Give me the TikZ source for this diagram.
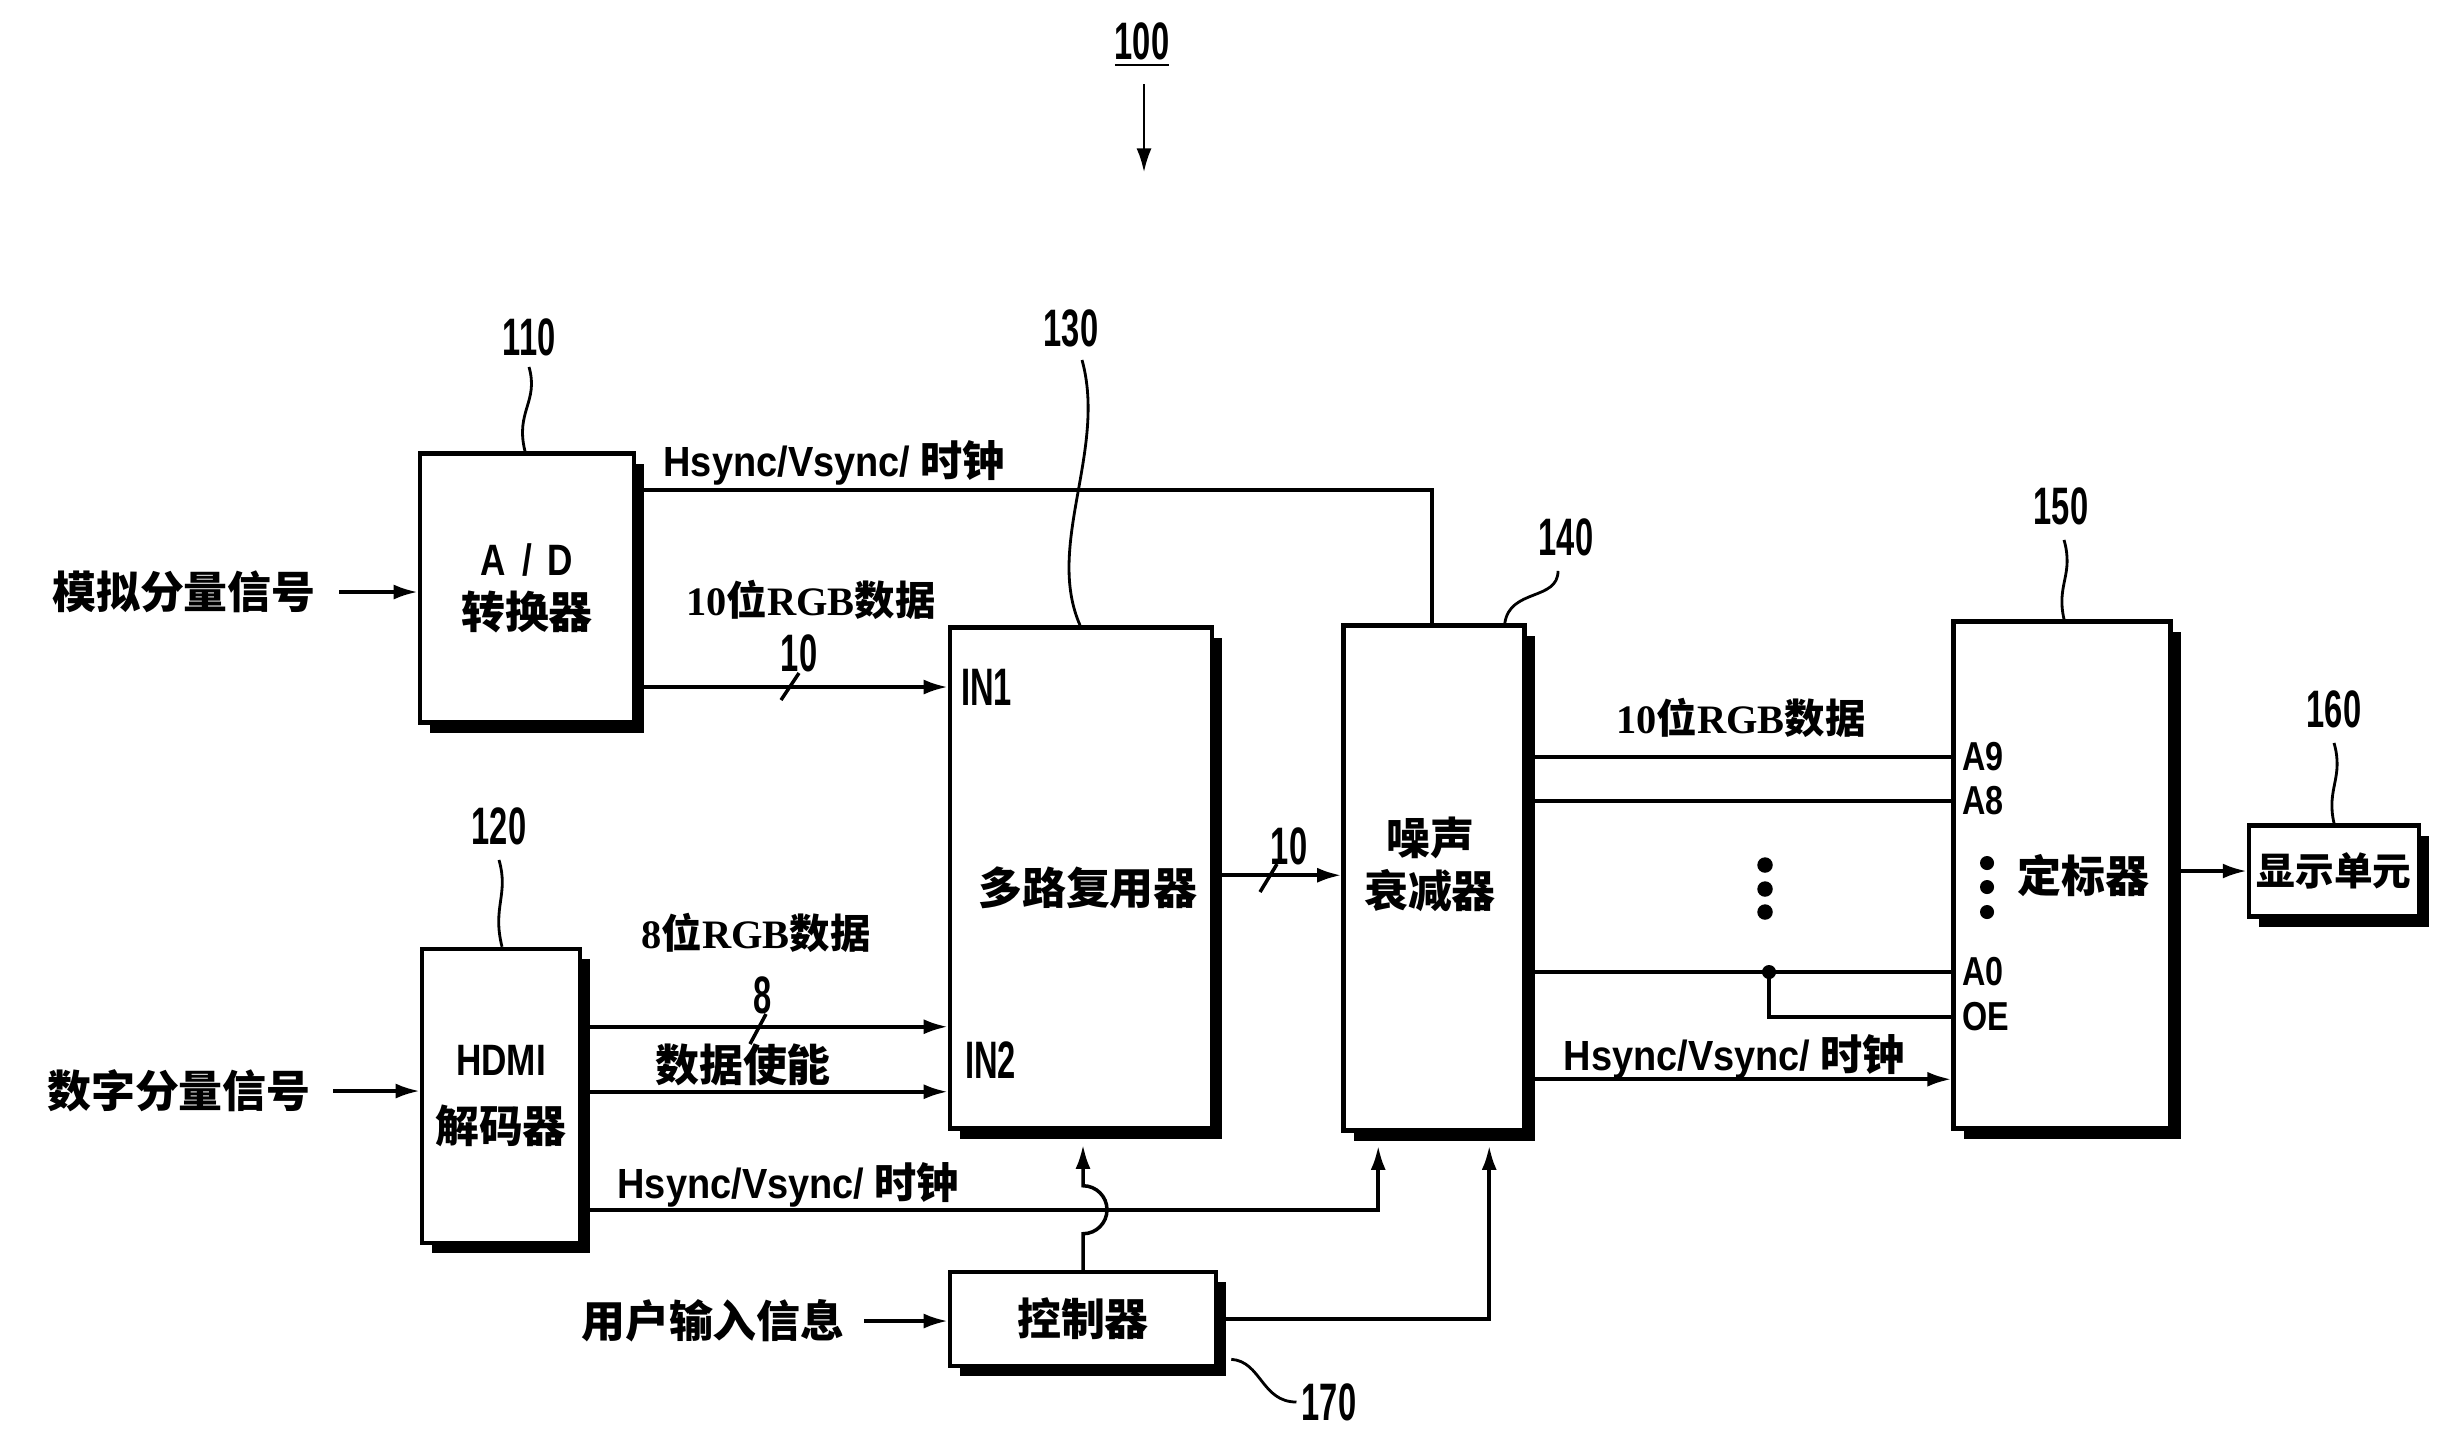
\documentclass[tikz,border=0pt]{standalone}
\usepackage{fontspec}
\setmainfont{Noto Sans CJK SC}
\newfontfamily\numfont{Liberation Sans}[FakeStretch=0.62]
\newfontfamily\portfont{Liberation Sans}[FakeStretch=0.8]
\newfontfamily\sigfont{Liberation Sans}[FakeStretch=0.9]
\newfontfamily\rgbfont{Liberation Serif}
\usetikzlibrary{arrows.meta, calc, shadows}

\begin{document}
\begin{tikzpicture}[
    x=0.1mm, y=-0.1mm,
    line width=1pt,
    blk/.style={draw, fill=white, line width=1.3pt, inner sep=0pt, align=center,
        font=\fontsize{12.5}{19}\selectfont\bfseries,
        drop shadow={shadow xshift=1mm, shadow yshift=-1mm, fill=black, opacity=1}},
    cn/.style={font=\fontsize{12.5}{15}\selectfont\bfseries, inner sep=1pt},
    num/.style={font=\numfont\fontsize{15}{15}\selectfont\bfseries, inner sep=1pt},
    port/.style={font=\portfont\fontsize{11.5}{12}\selectfont\bfseries, inner sep=1pt, anchor=west},
    sig/.style={font=\fontsize{12}{14}\selectfont\bfseries, inner sep=1pt},
    bus/.style={font=\fontsize{11.5}{14}\selectfont\bfseries, inner sep=1pt},
    arr/.style={-{Latex[length=2.4mm, width=1.5mm]}},
    lead/.style={line width=0.8pt}
]
\useasboundingbox (0,0) rectangle (2458,1452);

% 整体
\node[num] (l100) at (1142,45) {\underline{100}};
\draw[arr, line width=0.8pt] ($(l100.south)+(2,12)$) -- ++(0,88);

% 方框
\node[blk, minimum width=21.4mm, minimum height=26.9mm, font=\fontsize{12.5}{15}\selectfont\bfseries] (ad) at (527,588) {{\portfont A\hspace{1.6mm}/\hspace{1.6mm}D}\\转换器};
\node[blk, minimum width=15.8mm, minimum height=29.4mm] (hdmi) at (501,1096) {{\portfont HDMI}\\解码器};
\node[blk, minimum width=26.2mm, minimum height=50.1mm] (mux) at (1081,878) {};
\node[blk, minimum width=18.1mm, minimum height=50.5mm] (nr) at (1434,878) {};
\node[blk, minimum width=21.7mm, minimum height=50.7mm] (scl) at (2062,875) {};
\node[blk, minimum width=17mm, minimum height=9.1mm, font=\fontsize{11}{13}\selectfont\bfseries] (disp) at (2334,871) {显示单元};
\node[blk, minimum width=26.6mm, minimum height=9.4mm] (ctrl) at (1083,1319) {控制器};

\node[cn] (muxt) at (1088,888) {多路复用器};
\node[cn, align=center] (nrt) at (1430,864) {噪声\\衰减器};
\node[cn] (sclt) at (2083,876) {定标器};

% 端口
\node[num, anchor=west] (in1) at (956,687) {IN1};
\node[num, anchor=west] (in2) at (960,1060) {IN2};
\node[port] (a9) at (1957,757) {A9};
\node[port] (a8) at (1957,801) {A8};
\node[port] (a0) at (1957,972) {A0};
\node[port] (oe) at (1957,1017) {OE};

% 信号名
\node[cn, anchor=east] (ana) at (321,592) {模拟分量信号};
\node[cn, anchor=east] (dig) at (316,1091) {数字分量信号};
\node[cn, anchor=east] (usr) at (850,1321) {用户输入信息};
\node[sig] (hs1) at (834,463) {{\sigfont Hsync/Vsync/} 时钟};
\node[sig] (hs2) at (788,1185) {{\sigfont Hsync/Vsync/} 时钟};
\node[sig] (hs3) at (1734,1057) {{\sigfont Hsync/Vsync/} 时钟};
\node[bus] (rgb10) at (811,600) {{\rgbfont 10}位{\rgbfont RGB}数据};
\node[bus] (rgb8) at (756,933) {{\rgbfont 8}位{\rgbfont RGB}数据};
\node[bus] (rgb10b) at (1741,718) {{\rgbfont 10}位{\rgbfont RGB}数据};
\node[cn] (den) at (743,1065) {数据使能};
\node[num] (w10a) at (799,653) {10};
\node[num] (w8) at (763,995) {8};
\node[num] (w10b) at (1289,846) {10};

% 标号
\node[num] (l110) at (529,337) {110};
\node[num] (l120) at (499,826) {120};
\node[num] (l130) at (1071,328) {130};
\node[num] (l140) at (1566,537) {140};
\node[num] (l150) at (2061,506) {150};
\node[num] (l160) at (2334,709) {160};
\node[num] (l170) at (1329,1402) {170};

% 输入
\draw[arr] ([xshift=1.8mm]ana.east) -- (ana.east -| ad.west);
\draw[arr] ([xshift=1.7mm]dig.east) -- (dig.east -| hdmi.west);
\draw[arr] ([xshift=1.4mm]usr.east) -- (usr.east -| ctrl.west);

% A/D 输出
\draw ($(ad.north east)+(0,39)$) -| ($(nr.north west)+(91,0)$);
\draw[arr] (in1 -| ad.east) -- (in1 -| mux.west);
\draw (781,700) -- (799,673);

% HDMI 输出
\draw[arr] ($(hdmi.north east)+(0,80)$) coordinate (h8) -- (h8 -| mux.west);
\draw (750,1044) -- (766,1014);
\draw[arr] ($(hdmi.north east)+(0,145)$) coordinate (hde) -- (hde -| mux.west);
\draw[arr] ($(hdmi.north east)+(0,263)$) -| ($(nr.south west)+(37,13)$);

% 控制器
\draw[arr] (ctrl.north) -- ++(0,-36) arc[start angle=-90, end angle=90, radius=2.4mm] -- ($(mux.south)+(2,14)$);
\draw[arr] (ctrl.east) -| ($(nr.south west)+(148,13)$);

% 多路复用器 -> 噪声衰减器
\draw[arr] ($(mux.north east)+(0,250)$) coordinate (m10) -- (m10 -| nr.west);
\draw (1260,892) -- (1277,864);

% 噪声衰减器 -> 定标器
\foreach \p in {a9, a8, a0} \draw (\p -| nr.east) -- (\p -| scl.west);
\coordinate (jn) at (1769,972);
\draw (jn) |- (oe -| scl.west);
\fill (jn) circle (2pt);
\draw[arr] ($(nr.north east)+(0,456)$) coordinate (h2) -- (h2 -| scl.west);
\foreach \y in {865, 889, 912} \fill (1765,\y) circle (2.2pt);
\foreach \y in {863, 887, 912} \fill (1987,\y) circle (2pt);

% 定标器 -> 显示单元
\draw[arr] (disp.west -| scl.east) -- (disp.west);

% 引线
\draw[lead] ($(l110.south)+(0,6)$) .. controls +(10,35) and +(-10,-40) .. ($(ad.north)+(-2,0)$);
\draw[lead] ($(l120.south)+(0,10)$) .. controls +(10,35) and +(-10,-40) .. ($(hdmi.north)+(1,0)$);
\draw[lead] ($(l130.south)+(11,8)$) .. controls +(25,90) and +(-35,-80) .. ($(mux.north)+(-1,0)$);
\draw[lead] ($(l140.south)+(-8,10)$) .. controls +(0,30) and +(5,-35) .. ($(nr.north east)+(-22,0)$);
\draw[lead] ($(l150.south)+(3,10)$) .. controls +(10,35) and +(-8,-35) .. ($(scl.north)+(2,0)$);
\draw[lead] ($(l160.south)+(0,10)$) .. controls +(10,35) and +(-8,-35) .. (disp.north);
\draw[lead] ($(ctrl.south east)+(13,-9)$) .. controls +(30,2) and +(-35,0) .. (l170.west);

\end{tikzpicture}
\end{document}
